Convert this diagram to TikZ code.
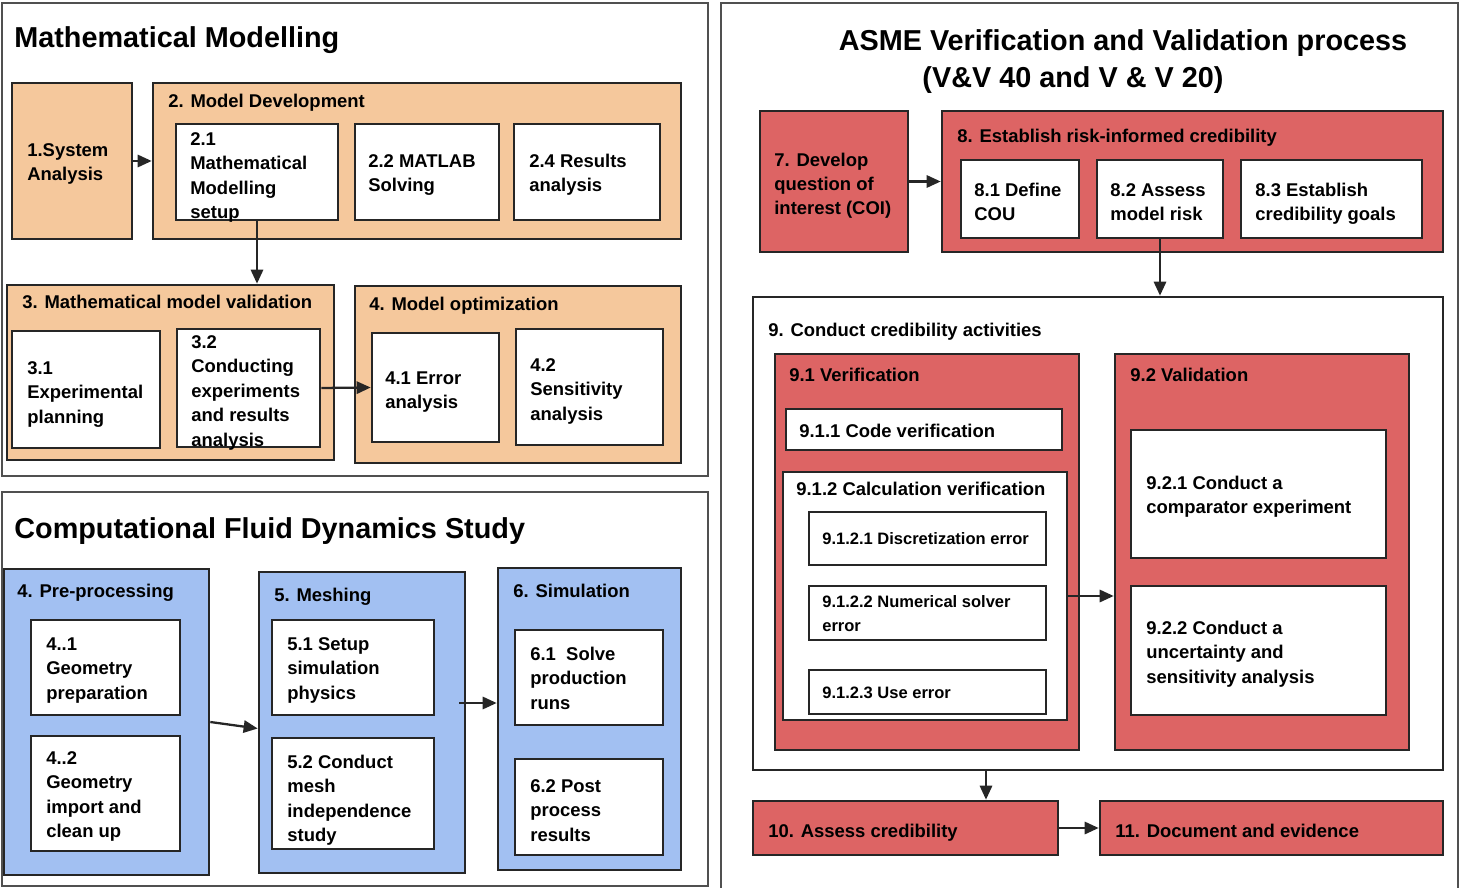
\documentclass[tikz,border=0pt]{standalone}
\usepackage{fontspec}
\setmainfont{Liberation Sans}
\usetikzlibrary{arrows.meta,positioning,fit,calc}
\definecolor{edge}{HTML}{262626}
\definecolor{framegray}{HTML}{505050}
\definecolor{peach}{HTML}{F5C89C}
\definecolor{skyblue}{HTML}{A2C0F2}
\definecolor{salmon}{HTML}{DD6464}
\tikzset{
  frame/.style={draw=framegray,line width=1.2pt},
  abox/.style={draw=edge,line width=1.5pt,inner sep=0pt},
  obox/.style={abox,fill=peach},
  bbox/.style={abox,fill=skyblue},
  rbox/.style={abox,fill=salmon},
  wbox/.style={abox,fill=white},
  title/.style={font=\bfseries\fontsize{16.4}{19}\selectfont,anchor=base west,inner sep=0pt},
  body/.style={font=\bfseries\fontsize{10.5}{13.9}\selectfont,anchor=base west,align=left,inner sep=0pt},
  small/.style={font=\bfseries\fontsize{9.4}{13.6}\selectfont,anchor=base west,align=left,inner sep=0pt},
  arr/.style={-{Triangle[length=8pt,width=7pt]},draw=edge,line width=1.3pt}
}
\begin{document}
\begin{tikzpicture}[x=0.02cm,y=-0.02cm]
\path[use as bounding box] (0,0) rectangle (1460,888);
% panels
\draw[frame] (2,3) rectangle (708,476);
\draw[frame] (2,492) rectangle (708,886);
\draw[frame] (721,3) rectangle (1458,895);

% mathematical modelling (text nodes sit on their last baseline)
\node[title] (mmtitle) at (14,48) {Mathematical Modelling};
\node[obox,fit={(12,83)(132,239)}] (sys) {};
\node[obox,fit={(153,83)(681,239)}] (dev) {};
\foreach \n/\xa/\xb in {setup/176/338, matlab/355/499, results/514/660}
  \node[wbox,fit={(\xa,124)(\xb,220)}] (\n) {};
\node[obox,fit={(7,285)(334,460)}] (val) {};
\node[wbox,fit={(12,331)(160,448)}] (plan) {};
\node[wbox,fit={(177,329)(320,447)}] (expt) {};
\node[obox,fit={(355,286)(681,463)}] (opt) {};
\node[wbox,fit={(372,333)(499,442)}] (err) {};
\node[wbox,fit={(516,329)(663,445)}] (sens) {};

\node[body] (sys-t) at (27,180.5) {1.System\\Analysis};
\node[body] (dev-t) at (168,108) {2. Model Development};
\node[body] (setup-t) at (190,218.5) {2.1\\Mathematical\\Modelling\\setup};
\node[body] (matlab-t) at (368,191.5) {2.2 MATLAB\\Solving};
\node[body] (results-t) at (529,191.5) {2.4 Results\\analysis};
\node[body] (val-t) at (22,309) {3. Mathematical model validation};
\node[body] (plan-t) at (27,423) {3.1\\Experimental\\planning};
\node[body] (expt-t) at (191,446) {3.2\\Conducting\\experiments\\and results\\analysis};
\node[body] (opt-t) at (369,311) {4. Model optimization};
\node[body] (err-t) at (385,408.5) {4.1 Error\\analysis};
\node[body] (sens-t) at (530,420) {4.2\\Sensitivity\\analysis};

\draw[arr] (sys.east) -- (dev.west);
\draw[arr] (setup.south) -- (setup.south |- val.north);
\draw[arr] (expt.east) -- (err.west);

% CFD study
\node[title] (cfdtitle) at (14,538) {Computational Fluid Dynamics Study};
\node[bbox,fit={(4,569)(209,875)}] (pre) {};
\node[wbox,fit={(31,620)(180,715)}] (geoprep) {};
\node[wbox,fit={(31,736)(180,851)}] (geoimp) {};
\node[bbox,fit={(259,572)(465,873)}] (mesh) {};
\node[wbox,fit={(272,620)(434,715)}] (physics) {};
\node[wbox,fit={(272,738)(434,849)}] (indep) {};
\node[bbox,fit={(498,568)(681,870)}] (sim) {};
\node[wbox,fit={(515,630)(663,725)}] (runs) {};
\node[wbox,fit={(515,759)(663,855)}] (post) {};

\node[body] (pre-t) at (17,597) {4. Pre-processing};
\node[body] (geoprep-t) at (46,699) {4..1\\Geometry\\preparation};
\node[body] (geoimp-t) at (46,837.5) {4..2\\Geometry\\import and\\clean up};
\node[body] (mesh-t) at (274,601) {5. Meshing};
\node[body] (physics-t) at (287,699) {5.1 Setup\\simulation\\physics};
\node[body] (indep-t) at (287,841.5) {5.2 Conduct\\mesh\\independence\\study};
\node[body] (sim-t) at (513,597) {6. Simulation};
\node[body] (runs-t) at (530,709) {6.1~~Solve\\production\\runs};
\node[body] (post-t) at (530,841) {6.2 Post\\process\\results};

\coordinate (meshout) at (459,703);
\draw[arr] (pre.east) -- ($(mesh.west)+(0,6)$);
\draw[arr] (meshout) -- (meshout -| sim.west);

% ASME V&V
\node[title,anchor=base] (asme1) at (1123,51) {ASME Verification and Validation process};
\node[title,anchor=base] (asme2) at (1073,88) {(V\&V 40 and V \& V 20)};
\node[rbox,fit={(760,111)(908,252)}] (coi) {};
\node[rbox,fit={(942,111)(1443,252)}] (risk) {};
\node[wbox,fit={(961,160)(1079,238)}] (cou) {};
\node[wbox,fit={(1097,160)(1223,238)}] (mrisk) {};
\node[wbox,fit={(1241,160)(1422,238)}] (goals) {};
\node[wbox,fit={(753,297)(1443,770)}] (activ) {};
\node[rbox,fit={(775,354)(1079,750)}] (verif) {};
\node[wbox,fit={(786,409)(1062,450)}] (code) {};
\node[wbox,fit={(783,472)(1067,720)}] (calcver) {};
\node[wbox,fit={(809,512)(1046,565)}] (discr) {};
\node[wbox,fit={(809,586)(1046,640)}] (solver) {};
\node[wbox,fit={(809,670)(1046,714)}] (use) {};
\node[rbox,fit={(1115,354)(1409,750)}] (valid) {};
\node[wbox,fit={(1131,430)(1386,558)}] (comp) {};
\node[wbox,fit={(1131,586)(1386,715)}] (unc) {};
\node[rbox,fit={(753,801)(1058,855)}] (assess) {};
\node[rbox,fit={(1100,801)(1443,855)}] (doc) {};

\node[body] (coi-t) at (774,215) {7. Develop\\question of\\interest (COI)};
\node[body] (risk-t) at (957,143) {8. Establish risk-informed credibility};
\node[body] (cou-t) at (974,220.5) {8.1 Define\\COU};
\node[body] (mrisk-t) at (1110,220.5) {8.2 Assess\\model risk};
\node[body] (goals-t) at (1255,220.5) {8.3 Establish\\credibility goals};
\node[body] (activ-t) at (768,337) {9. Conduct credibility activities};
\node[body] (verif-t) at (789,381) {9.1 Verification};
\node[body] (code-t) at (799,437) {9.1.1 Code verification};
\node[body] (calcver-t) at (796,495) {9.1.2 Calculation verification};
\node[small] (discr-t) at (822,544) {9.1.2.1 Discretization error};
\node[small] (solver-t) at (822,631) {9.1.2.2 Numerical solver\\error};
\node[small] (use-t) at (822,698) {9.1.2.3 Use error};
\node[body] (valid-t) at (1130,381) {9.2 Validation};
\node[body] (comp-t) at (1146,513.5) {9.2.1 Conduct a\\comparator experiment};
\node[body] (unc-t) at (1146,683) {9.2.2 Conduct a\\uncertainty and\\sensitivity analysis};
\node[body] (assess-t) at (768,837) {10. Assess credibility};
\node[body] (doc-t) at (1115,837) {11. Document and evidence};

\coordinate (down) at (986,0);
\draw[arr] (coi.east) -- (risk.west);
\draw[arr] (mrisk.south) -- (mrisk.south |- activ.north);
\draw[arr] (calcver.east) -- (calcver.east -| valid.west);
\draw[arr] (activ.south -| down) -- (assess.north -| down);
\draw[arr] (assess.east) -- (doc.west);
\end{tikzpicture}
\end{document}
